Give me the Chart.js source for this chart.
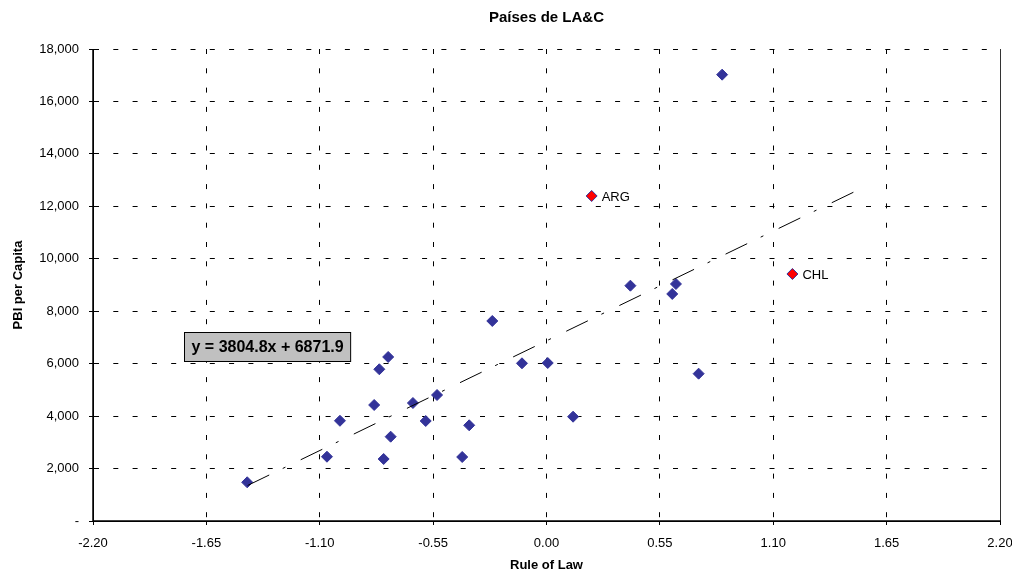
<!DOCTYPE html>
<html>
<head>
<meta charset="utf-8">
<script src="https://cdn.jsdelivr.net/npm/chart.js@4/dist/chart.umd.min.js"></script>
<style>
html, body { margin: 0; padding: 0; background: #fff; }
#wrap { width: 1012px; height: 571px; position: relative; }
</style>
</head>
<body>
<div id="wrap"><canvas id="scatter"></canvas></div>
<script>
// Rule of Law vs PBI per capita (LA&C countries)
var ruleOfLaw = [-1.452, -1.065, -1.002, -0.836, -0.811, -0.768, -0.790, -0.756, -0.648, -0.586, -0.531,
  -0.409, -0.375, -0.263, -0.119, 0.006, 0.129, 0.407, 0.610, 0.628, 0.738, 0.852];
var pbiPerCapita = [1476, 2452, 3822, 4424, 5786, 6255, 2365, 3215, 4500, 3814, 4805,
  2441, 3650, 7628, 6014, 6026, 3978, 8974, 8658, 9039, 5618, 17021];

// highlighted countries
var hiNames = ['ARG', 'CHL'];
var hiRuleOfLaw = [0.219, 1.193];
var hiPbi = [12395, 9420];

// linear trend line ends
var trendX = [-1.45, 1.49];
var trendY = [1355, 12541];
var trendText = 'y = 3804.8x + 6871.9';
// where the equation box sits (data units, top-left corner)
var trendBoxAt = { x: -1.757, y: 7200 };

var FONT = '"Liberation Sans", Arial, sans-serif';
var NAVY = '#333399';

function toPoints(xs, ys) {
  return xs.map((x, i) => ({ x: x, y: ys[i] }));
}

// solid axes + right border, names next to the red points, equation box
const extras = {
  id: 'extras',
  beforeDatasetsDraw(chart) {
    const ctx = chart.ctx;
    const a = chart.chartArea;
    ctx.save();
    ctx.setLineDash([]);
    ctx.strokeStyle = '#333';
    ctx.lineWidth = 1;
    ctx.beginPath();
    ctx.moveTo(a.right + 0.5, a.top);
    ctx.lineTo(a.right + 0.5, a.bottom);
    ctx.stroke();
    ctx.strokeStyle = '#000';
    ctx.lineWidth = 1.5;
    ctx.beginPath();
    ctx.moveTo(a.left, a.top);
    ctx.lineTo(a.left, a.bottom);
    ctx.lineTo(a.right + 1, a.bottom);
    ctx.stroke();
    ctx.restore();
  },
  afterDatasetsDraw(chart) {
    const ctx = chart.ctx;
    const xs = chart.scales.x, ys = chart.scales.y;
    ctx.save();
    ctx.font = '13px ' + FONT;
    ctx.fillStyle = '#000';
    ctx.textAlign = 'left';
    ctx.textBaseline = 'middle';
    chart.getDatasetMeta(1).data.forEach((pt, i) => {
      ctx.fillText(hiNames[i], pt.x + 10, pt.y + 1);
    });

    ctx.font = 'bold 16px ' + FONT;
    const w = ctx.measureText(trendText).width + 14;
    const bx = Math.round(xs.getPixelForValue(trendBoxAt.x)) + 0.5;
    const by = Math.round(ys.getPixelForValue(trendBoxAt.y)) + 0.5;
    ctx.fillStyle = '#c0c0c0';
    ctx.fillRect(bx, by, w, 29);
    ctx.strokeStyle = '#000';
    ctx.lineWidth = 1;
    ctx.strokeRect(bx, by, w, 29);
    ctx.fillStyle = '#000';
    ctx.textAlign = 'center';
    ctx.fillText(trendText, bx + w / 2, by + 15);
    ctx.restore();
  }
};

const scatterConfig = {
  type: 'scatter',
  data: {
    datasets: [
      {
        label: 'Países',
        data: toPoints(ruleOfLaw, pbiPerCapita),
        pointStyle: 'rectRot',
        pointRadius: 5.5,
        pointHoverRadius: 5.5,
        backgroundColor: NAVY,
        borderColor: NAVY,
        borderWidth: 1,
        order: 2
      },
      {
        label: 'Destacados',
        data: toPoints(hiRuleOfLaw, hiPbi),
        pointStyle: 'rectRot',
        pointRadius: 5.5,
        pointHoverRadius: 5.5,
        backgroundColor: '#ff0000',
        borderColor: NAVY,
        borderWidth: 1,
        order: 1
      },
      {
        type: 'line',
        label: 'Tendencia',
        data: toPoints(trendX, trendY),
        borderColor: '#000',
        borderWidth: 1,
        borderDash: [24, 15, 3, 17],
        pointRadius: 0,
        fill: false,
        order: 0
      }
    ]
  },
  options: {
    responsive: true,
    maintainAspectRatio: false,
    animation: false,
    layout: { padding: { left: 0, right: 12, top: 0, bottom: 0 } },
    plugins: {
      legend: { display: false },
      tooltip: { enabled: false },
      title: {
        display: true,
        text: 'Países de LA&C',
        fullSize: false,
        color: '#000',
        font: { family: FONT, size: 15, weight: 'bold' },
        padding: { top: 9, bottom: 22 }
      }
    },
    scales: {
      x: {
        type: 'linear',
        min: -2.2,
        max: 2.2,
        afterFit(scale) {
          scale.height = 50;
          scale.paddingLeft = 0;
          scale.paddingRight = 0;
        },
        ticks: {
          stepSize: 0.55,
          color: '#000',
          font: { family: FONT, size: 13 },
          padding: 11,
          maxRotation: 0,
          callback: (v) => Number(v).toFixed(2)
        },
        grid: {
          color: '#000',
          lineWidth: 1,
          tickLength: 4,
          tickColor: '#000'
        },
        border: { display: true, color: '#000', width: 1, dash: [5, 14.3] },
        title: {
          display: true,
          text: 'Rule of Law',
          color: '#000',
          font: { family: FONT, size: 13, weight: 'bold' },
          padding: { top: 0, bottom: -2 }
        }
      },
      y: {
        type: 'linear',
        min: 0,
        max: 18000,
        afterFit(scale) { scale.width = 93; },
        ticks: {
          stepSize: 2000,
          color: '#000',
          font: { family: FONT, size: 13 },
          padding: 10,
          callback: (v) => v === 0 ? '-' : Number(v).toLocaleString('en-US')
        },
        grid: {
          color: '#000',
          lineWidth: 1,
          tickLength: 4,
          tickColor: '#000'
        },
        border: { display: true, color: '#000', width: 1, dash: [5, 14.3] },
        title: {
          display: true,
          text: 'PBI per Capita',
          color: '#000',
          font: { family: FONT, size: 13, weight: 'bold' },
          padding: { top: 11, bottom: 0 }
        }
      }
    }
  },
  plugins: [extras]
};

const scatterCtx = document.getElementById('scatter');
window.myScatter = new Chart(scatterCtx, scatterConfig);
</script>
</body>
</html>
